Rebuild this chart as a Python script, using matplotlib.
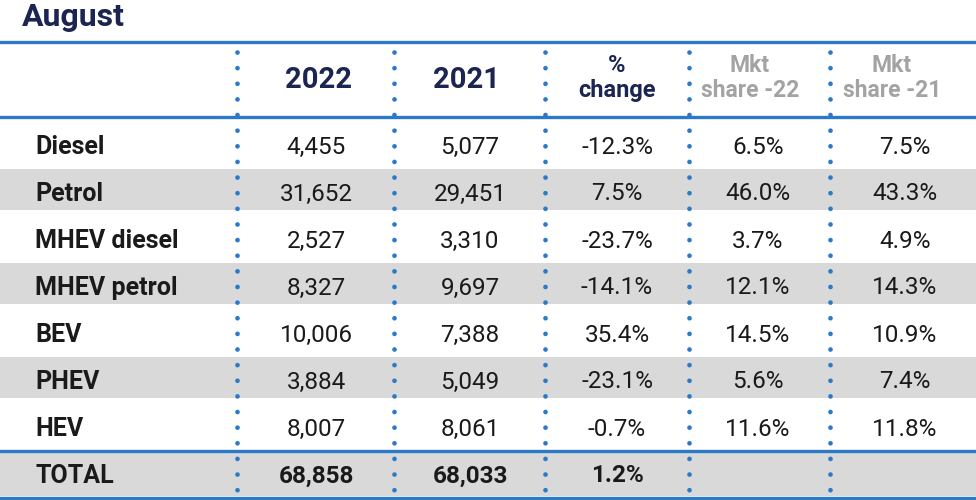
import matplotlib
matplotlib.use('Agg')
import matplotlib.pyplot as plt

# dati della tabella
categorie = ['Diesel', 'Petrol', 'MHEV diesel', 'MHEV petrol', 'BEV', 'PHEV', 'HEV']
vendite_2022 = [4455, 31652, 2527, 8327, 10006, 3884, 8007]
vendite_2021 = [5077, 29451, 3310, 9697, 7388, 5049, 8061]
variazione = [-12.3, 7.5, -23.7, -14.1, 35.4, -23.1, -0.7]
quota_22 = [6.5, 46.0, 3.7, 12.1, 14.5, 5.6, 11.6]
quota_21 = [7.5, 43.3, 4.9, 14.3, 10.9, 7.4, 11.8]
totale_2022 = 68858
totale_2021 = 68033
totale_var = 1.2
intestazioni = ['2022', '2021', '%\nchange', 'Mkt\nshare -22', 'Mkt\nshare -21']
titolo = 'August'

BLU = '#2b79c8'
GRIGIO = '#d9d9d9'
NAVY = '#1c2452'
TESTO = '#1a1a1a'
FONT = 'Roboto'

fig = plt.figure(figsize=(9.76, 5.0), dpi=100)
ax = fig.add_axes([0, 0, 1, 1])
ax.set_xlim(0, 976)
ax.set_ylim(500, 0)
ax.axis('off')

col_x = [316, 470, 617, 758, 905]
head_x = [318, 466, 617, 750, 892]
sep_x = [237, 394, 545, 689, 830]
riga0, passo = 147, 47

# bande grigie
for i in range(len(categorie)):
    if i % 2 == 1:
        yc = riga0 + passo * i - 5
        ax.axhspan(yc - 20.5, yc + 20.5, color=GRIGIO, lw=0, zorder=0)
ax.axhspan(453, 496, color=GRIGIO, lw=0, zorder=0)

# linee orizzontali
for y in [42, 117, 451, 498]:
    ax.axhline(y, color=BLU, lw=2.4, zorder=2)

# separatori a puntini
for x in sep_x:
    ax.plot([x, x], [52, 496], color=BLU, lw=3.4, linestyle=(0, (0.01, 3.3)),
            dash_capstyle='round', zorder=3)

ax.text(22, 17, titolo, fontsize=23, fontweight='bold', color=NAVY,
        family=FONT, va='center', ha='left')

# intestazioni
for j, h in enumerate(intestazioni):
    if j < 2:
        ax.text(head_x[j], 80, h, fontsize=21, fontweight='bold', color=NAVY,
                family=FONT, ha='center', va='center')
    elif j == 2:
        ax.text(head_x[j], 78, h, fontsize=17, fontweight='bold', color=NAVY,
                family=FONT, ha='center', va='center', linespacing=1.1)
    else:
        ax.text(head_x[j], 78, h, fontsize=16.5, fontweight='bold', color='#a3a3a3',
                family=FONT, ha='center', va='center', linespacing=1.1)

def fmt_pct(v):
    return f'{v:.1f}%'

for i, cat in enumerate(categorie):
    y = riga0 + passo * i
    ax.text(35, y, cat, fontsize=18, fontweight='bold', color=TESTO,
            family=FONT, ha='left', va='center')
    valori = [f'{vendite_2022[i]:,}', f'{vendite_2021[i]:,}',
              fmt_pct(variazione[i]), fmt_pct(quota_22[i]), fmt_pct(quota_21[i])]
    for j, v in enumerate(valori):
        ax.text(col_x[j], y, v, fontsize=17.5, fontweight='normal', color=TESTO,
                family=FONT, ha='center', va='center')

y_tot = riga0 + passo * len(categorie)
ax.text(35, y_tot, 'TOTAL', fontsize=18, fontweight='bold', color=TESTO,
        family=FONT, ha='left', va='center')
for j, v in enumerate([f'{totale_2022:,}', f'{totale_2021:,}', fmt_pct(totale_var)]):
    ax.text(col_x[j], y_tot, v, fontsize=17.5, fontweight='bold', color=TESTO,
            family=FONT, ha='center', va='center')

fig.savefig('out.png', dpi=100)
